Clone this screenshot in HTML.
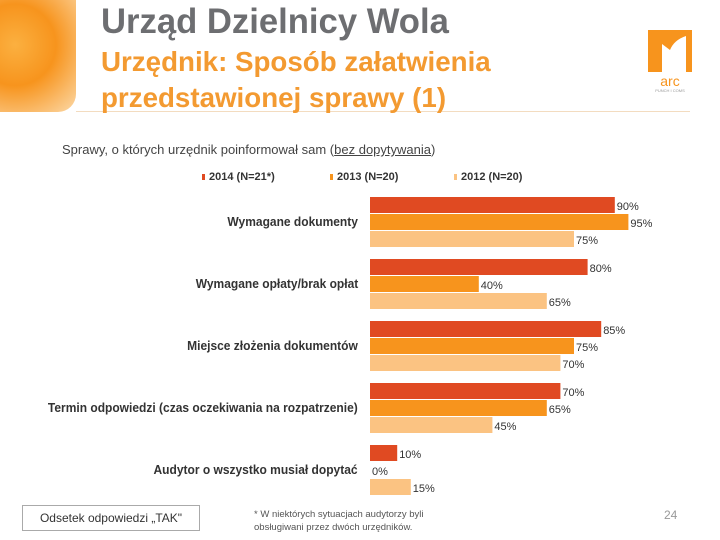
<!DOCTYPE html>
<html><head><meta charset="utf-8"><style>
body{margin:0;width:720px;height:540px;overflow:hidden;background:#fff;position:relative;font-family:"Liberation Sans",sans-serif}
.abs{position:absolute}
.cat{position:absolute;right:362px;font-weight:bold;font-size:12.5px;color:#333;white-space:nowrap;transform:scaleX(0.96);transform-origin:right center}
</style></head><body>
<div class="abs" style="left:0;top:0;width:76px;height:112px;background:radial-gradient(circle at 20% 40%,#fbb040 0,#f7941d 45%,#fcd9a8 100%);border-bottom-right-radius:18px"></div>
<div class="abs" style="left:76px;top:111px;width:614px;height:1px;background:#f3dcc0"></div>
<div class="abs" style="left:101px;top:2px;font-size:35px;font-weight:bold;color:#6d6e71;transform:scaleX(0.99);transform-origin:left">Urząd Dzielnicy Wola</div>
<div class="abs" style="left:101px;top:44px;font-size:28px;line-height:36px;font-weight:bold;color:#f39a31;transform:scaleX(0.99);transform-origin:left">Urzędnik: Sposób załatwienia<br>przedstawionej sprawy (1)</div>
<svg class="abs" style="left:640px;top:26px" width="60" height="68">
<path d="M8 4 H52 V46 H46 V10 Q34 14 30 24 L22 18 V46 H8 Z" fill="#f7941d"/>
<text x="30" y="60" text-anchor="middle" font-size="14" fill="#f7941d" font-family="Liberation Sans">arc</text>
<text x="30" y="66" text-anchor="middle" font-size="4" fill="#999" font-family="Liberation Sans">PUNCH I COMS</text>
</svg>
<div class="abs" style="left:62px;top:142px;font-size:13px;color:#444">Sprawy, o których urzędnik poinformował sam (<u>bez dopytywania</u>)</div>
<div id="legend"></div>
<svg id="chart" class="abs" style="left:0;top:0" width="720" height="540"></svg>
<div id="cats"></div>
<div class="abs" style="left:22px;top:505px;width:176px;height:24px;border:1px solid #aaa;font-size:12px;color:#333;text-align:center;line-height:24px">Odsetek odpowiedzi „TAK"</div>
<div class="abs" style="left:254px;top:508px;font-size:9.5px;line-height:13px;color:#555">* W niektórych sytuacjach audytorzy byli<br>obsługiwani przez dwóch urzędników.</div>
<div class="abs" style="left:664px;top:508px;font-size:12px;color:#999">24</div>
<script>
const categories=["Wymagane dokumenty","Wymagane opłaty/brak opłat","Miejsce złożenia dokumentów","Termin odpowiedzi (czas oczekiwania na rozpatrzenie)","Audytor o wszystko musiał dopytać"];
const series2014=[90,80,85,70,10];
const series2013=[95,40,75,65,0];
const series2012=[75,65,70,45,15];
const seriesNames=["2014 (N=21*)","2013 (N=20)","2012 (N=20)"];
const colors=["#e04a22","#f7941d","#fbc382"];
const all=[series2014,series2013,series2012];
const x0=370, pxPer=2.72, gTop=197, gStep=62, bStep=17, bH=16;
const xs=v=>x0+v*pxPer;
const svg=document.getElementById('chart');
const NS='http://www.w3.org/2000/svg';
categories.forEach((c,i)=>{
  all.forEach((s,j)=>{
    const y=gTop+i*gStep+j*bStep;
    const r=document.createElementNS(NS,'rect');
    r.setAttribute('x',x0);r.setAttribute('y',y);
    r.setAttribute('width',xs(s[i])-x0);r.setAttribute('height',bH);
    r.setAttribute('fill',colors[j]);
    
    
    svg.appendChild(r);
    const t=document.createElementNS(NS,'text');
    t.setAttribute('x',xs(s[i])+2);t.setAttribute('y',y+13);
    t.setAttribute('font-size','11');t.setAttribute('fill','#333');
    t.setAttribute('font-family','Liberation Sans');
    t.textContent=s[i]+'%';
    
    
    svg.appendChild(t);
  });
  const d=document.createElement('div');
  d.className='cat';
  d.style.top=(gTop+i*gStep+bStep+1)+'px';
  d.textContent=c;
  
  
  document.getElementById('cats').appendChild(d);
});
const lx=[202,330,454];
seriesNames.forEach((n,j)=>{
  const d=document.createElement('div');
  d.className='abs';
  d.style.cssText='left:'+lx[j]+'px;top:171px;font-size:11px;font-weight:bold;color:#333;white-space:nowrap';
  d.innerHTML='<span style="display:inline-block;width:3px;height:6px;background:'+colors[j]+';margin-right:4px"></span>'+n;
  
  
  document.getElementById('legend').appendChild(d);
});
</script>
</body></html>
